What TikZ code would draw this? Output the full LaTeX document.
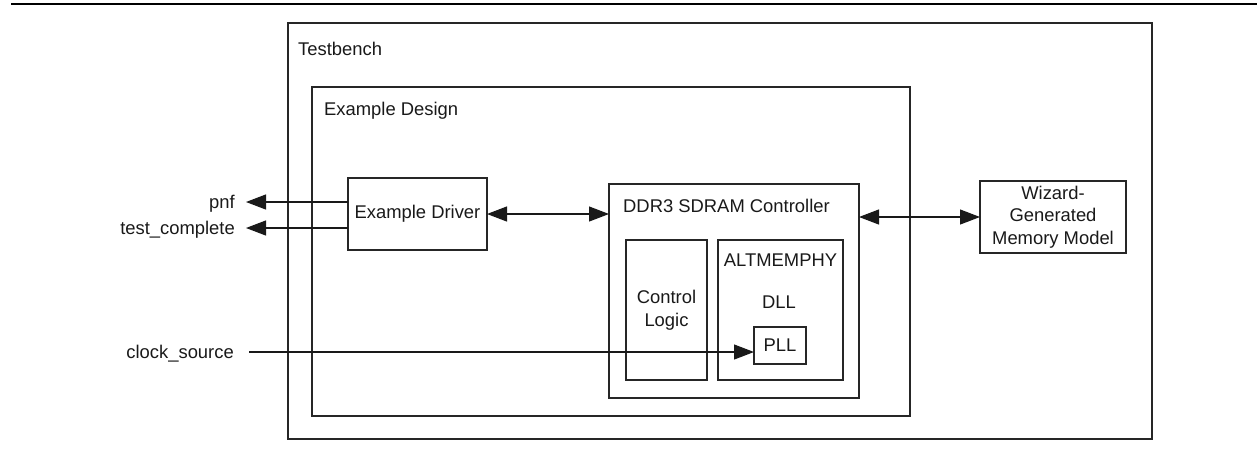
\documentclass[tikz,border=0pt]{standalone}
\usepackage{fontspec}
\setmainfont{Liberation Sans}
\usetikzlibrary{arrows.meta,calc}
\begin{document}
\begin{tikzpicture}[x=1pt,y=-1pt,
  box/.style={draw=black!85,line width=1.1pt,inner sep=0pt,outer sep=0pt,anchor=north west},
  txt/.style={inner sep=0pt,font=\fontsize{18.4}{22.5}\selectfont,text=black!90},
  conn/.style={line width=1.1pt,draw=black!90},
  tip/.style={-{Triangle[length=20pt,width=15pt]}},
  dtip/.style={{Triangle[length=20pt,width=15pt]}-{Triangle[length=20pt,width=15pt]}}]
\useasboundingbox (0,0) rectangle (1257,448);
% top rule
\coordinate (ruleL) at (11,4);
\coordinate (ruleR) at (1257,4);
\draw[line width=2.5pt] (ruleL) -- (ruleR);
% boxes
\node[box,minimum width=864,minimum height=416] (tb) at (288,23) {};
\node[box,minimum width=598,minimum height=329] (ed) at (312,87) {};
\node[box,minimum width=139,minimum height=72] (drv) at (348,178) {};
\node[box,minimum width=250,minimum height=214] (ddr) at (609,184) {};
\node[box,minimum width=81,minimum height=140] (cl) at (626,240) {};
\node[box,minimum width=125,minimum height=140] (alt) at (718,240) {};
\node[box,minimum width=52,minimum height=37] (pll) at (754,327) {};
\node[box,minimum width=146,minimum height=72] (wiz) at (980,181) {};
% texts
\node[txt,anchor=base west] (tbT) at (298,55) {Testbench};
\node[txt,anchor=base west] (edT) at (324,115) {Example Design};
\node[txt] (drvT) at (drv.center) {Example Driver};
\node[txt,anchor=base west] (ddrT) at (623,212) {DDR3 SDRAM Controller};
\node[txt,align=center] (clT) at (666.5,310) {Control\\Logic};
\node[txt,anchor=base] (altT) at (780.5,266) {ALTMEMPHY};
\node[txt,anchor=base] (dllT) at (779,308) {DLL};
\node[txt] (pllT) at (pll.center) {PLL};
\node[txt,align=center] (wizT) at (wiz.center) {Wizard-\\Generated\\Memory Model};
\node[txt,anchor=base east] (pnfT) at (235,208) {pnf};
\node[txt,anchor=base east] (tcT) at (235,234) {test\_complete};
\node[txt,anchor=base east] (clkT) at (234,358) {clock\_source};
% connector ends
\coordinate (pnfA) at (246,202);
\coordinate (tcA) at (246,228);
\coordinate (clkA) at (249,352);
% connectors
\draw[conn,tip] (drv.west |- pnfA) -- (pnfA);
\draw[conn,tip] (drv.west |- tcA) -- (tcA);
\draw[conn,dtip] (drv.east) -- (drv.east -| ddr.west);
\draw[conn,dtip] (wiz.west -| ddr.east) -- (wiz.west);
\draw[conn,tip] (clkA) -- (clkA -| pll.west);
\end{tikzpicture}
\end{document}
